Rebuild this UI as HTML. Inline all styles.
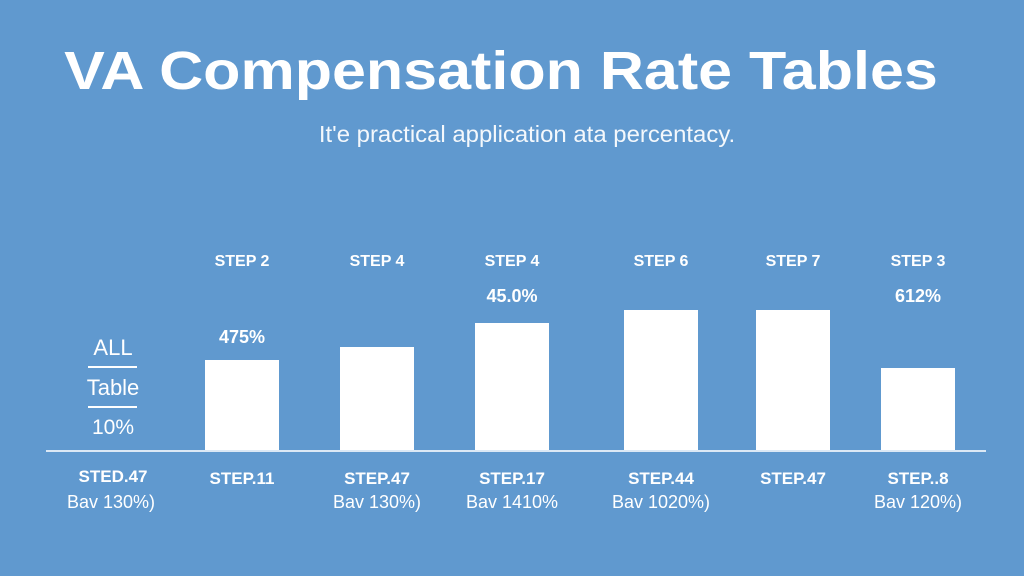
<!DOCTYPE html>
<html><head><meta charset="utf-8"><style>
body{margin:0;width:1024px;height:576px;background:#6099cf;overflow:hidden;font-family:"Liberation Sans",sans-serif;color:#fff}
.t{position:absolute;white-space:nowrap;transform:translateX(-50%)}
</style></head><body>
<div class="t" style="left:501px;top:40px;font-size:54px;font-weight:bold;transform:translateX(-50%) scaleX(1.13)">VA Compensation Rate Tables</div>
<div class="t" style="left:527px;top:121px;font-size:23px;color:#f4f8fc;transform:translateX(-50%) scaleX(1.04)">It'e practical application ata percentacy.</div>
<div class="t" style="left:113px;top:335px;font-size:22px">ALL</div>
<div style="position:absolute;left:88px;top:366px;width:49px;height:2px;background:#fff"></div>
<div class="t" style="left:113px;top:375px;font-size:22px">Table</div>
<div style="position:absolute;left:88px;top:406px;width:49px;height:2px;background:#fff"></div>
<div class="t" style="left:113px;top:416px;font-size:21px">10%</div>
<div class="t" style="left:113px;top:467px;font-size:17px;font-weight:bold">STED.47</div>
<div class="t" style="left:111px;top:492px;font-size:18px">Bav 130%)</div>
<svg id="c" width="1024" height="576" style="position:absolute;left:0;top:0"></svg>
<script>
const categories=["STEP 2","STEP 4","STEP 4","STEP 6","STEP 7","STEP 3"];
const values=[90,103,127,140,140,82];
const valueLabels=["475%","","45.0%","","","612%"];
const bottomLabels=["STEP.11","STEP.47","STEP.17","STEP.44","STEP.47","STEP..8"];
const subLabels=["","Bav 130%)","Bav 1410%","Bav 1020%)","","Bav 120%)"];
const centers=[242,377,512,661,793,918];
const base=450,scale=1,bw=74;
const y=v=>base-v*scale;
const svg=document.getElementById('c');
const NS="http://www.w3.org/2000/svg";
function txt(x,yy,s,size,bold,name){const t=document.createElementNS(NS,'text');t.setAttribute('x',x);t.setAttribute('y',yy);t.setAttribute('text-anchor','middle');t.setAttribute('fill','#fff');t.setAttribute('font-size',size);if(bold)t.setAttribute('font-weight','bold');t.setAttribute('font-family','Liberation Sans, sans-serif');t.textContent=s;


svg.appendChild(t);}
const ax=document.createElementNS(NS,'rect');ax.setAttribute('x',46);ax.setAttribute('y',450);ax.setAttribute('width',940);ax.setAttribute('height',2);ax.setAttribute('fill','#dbe8f5');


svg.appendChild(ax);
values.forEach((v,i)=>{const r=document.createElementNS(NS,'rect');r.setAttribute('x',centers[i]-bw/2);r.setAttribute('y',y(v));r.setAttribute('width',bw);r.setAttribute('height',v*scale);r.setAttribute('fill','#fff');


svg.appendChild(r);
txt(centers[i],266,categories[i],16,true,'category-label');
if(valueLabels[i])txt(centers[i],i==1||i==0?y(v)-17:302,valueLabels[i],18,true,'value-label');
txt(centers[i],484,bottomLabels[i],17,true,'bottom-label');
if(subLabels[i])txt(centers[i],508,subLabels[i],18,false,'bottom-sublabel');});
</script>
</body></html>
